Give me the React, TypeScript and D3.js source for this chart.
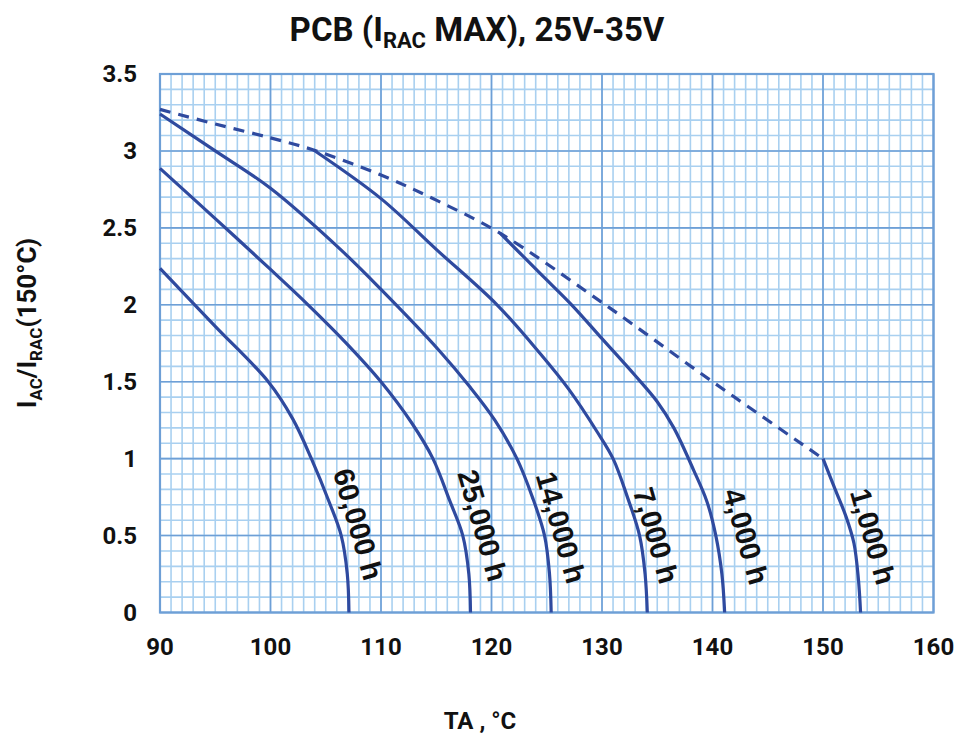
import React from "react";
import * as d3 from "d3";

// ---- data ----
const maxT = [90, 95, 100, 103.9, 110, 115, 120.8, 130, 140, 150];
const maxV = [3.27, 3.175, 3.085, 3.006, 2.843, 2.68, 2.464, 2.015, 1.5, 1.0];

const h60000: [number, number][] = [[90, 2.236], [95, 1.86], [99.8, 1.5], [102, 1.26], [103.7, 1.0], [105.3, 0.72], [106.4, 0.5], [106.95, 0.25], [107.1, 0]];
const h25000: [number, number][] = [[90, 2.887], [95, 2.56], [100, 2.23], [103.4, 2.0], [107, 1.74], [110, 1.5], [112.8, 1.23], [114.7, 1.0], [116.2, 0.73], [117.4, 0.5], [117.95, 0.25], [118.1, 0]];
const h14000: [number, number][] = [[90, 3.24], [95, 3.0], [100, 2.757], [106.4, 2.355], [110, 2.1], [115.3, 1.7], [118, 1.47], [120.3, 1.25], [122.3, 1.0], [123.7, 0.75], [124.8, 0.5], [125.25, 0.25], [125.4, 0]];
const h7000: [number, number][] = [[103.9, 3.006], [110, 2.69], [115, 2.36], [120.5, 2.0], [124.4, 1.683], [127, 1.45], [129.6, 1.17], [131, 1.0], [132.3, 0.75], [133.4, 0.5], [133.9, 0.25], [134.1, 0]];
const h4000: [number, number][] = [[120.8, 2.464], [124.4, 2.204], [127.25, 2.0], [130, 1.78], [133, 1.54], [135, 1.37], [136.5, 1.2], [138.3, 0.924], [139.5, 0.72], [140.3, 0.5], [140.85, 0.25], [141.1, 0]];
const h1000: [number, number][] = [[150, 1.0], [151.1, 0.8], [152.1, 0.62], [152.8, 0.45], [153.2, 0.22], [153.4, 0]];

const seriesNames = ["60,000 h", "25,000 h", "14,000 h", "7,000 h", "4,000 h", "1,000 h"];
const seriesData = [h60000, h25000, h14000, h7000, h4000, h1000];
// label anchor (centre) in data coordinates
const labelT = [107.92, 119.19, 126.29, 134.89, 143.03, 154.52];
const labelV = [0.573, 0.566, 0.553, 0.501, 0.494, 0.494];

const xTicks = [90, 100, 110, 120, 130, 140, 150, 160];
const yTicks = [0, 0.5, 1, 1.5, 2, 2.5, 3, 3.5];

const W = 955, H = 736;
const M = { left: 160, right: 933.5, top: 74, bottom: 612.5 };

const MINOR = "#a9d0f0";
const MAJOR = "#6e9fd6";
const LINE = "#2f4a9f";
const FONT = "Roboto, 'Liberation Sans', sans-serif";

export default function App() {
  const x = d3.scaleLinear().domain([90, 160]).range([M.left, M.right]);
  const y = d3.scaleLinear().domain([0, 3.5]).range([M.bottom, M.top]);

  const minorX = d3.range(90, 160.001, 1);
  const minorY = d3.range(0, 3.5001, 0.1);

  const line = d3
    .line<[number, number]>()
    .x((d) => x(d[0]))
    .y((d) => y(d[1]))
    .curve(d3.curveCatmullRom.alpha(0.5));

  const maxPts: [number, number][] = maxT.map((t, i) => [t, maxV[i]]);

  return (
    <svg width={W} height={H} style={{ position: "absolute", left: 0, top: 0, background: "#fff" }}>
      <rect width={W} height={H} fill="#fff" />
      {/* minor grid */}
      {minorX.map((t, i) => (
        <line key={"mx" + i} x1={x(t)} x2={x(t)} y1={M.top} y2={M.bottom} stroke={MINOR} strokeWidth={1.6} />
      ))}
      {minorY.map((v, i) => (
        <line key={"my" + i} x1={M.left} x2={M.right} y1={y(v)} y2={y(v)} stroke={MINOR} strokeWidth={1.6} />
      ))}
      {/* major grid */}
      {xTicks.map((t) => (
        <line key={"Mx" + t} x1={x(t)} x2={x(t)} y1={M.top} y2={M.bottom} stroke={MAJOR} strokeWidth={1.6} />
      ))}
      {yTicks.map((v) => (
        <line key={"My" + v} x1={M.left} x2={M.right} y1={y(v)} y2={y(v)} stroke={MAJOR} strokeWidth={1.6} />
      ))}
      <rect x={M.left} y={M.top} width={M.right - M.left} height={M.bottom - M.top} fill="none" stroke={MAJOR} strokeWidth={2.2} />

      {/* curves */}
      <path d={line(maxPts) || ""} fill="none" stroke={LINE} strokeWidth={3.2} strokeDasharray="11 8" />
      {seriesData.map((s, i) => (
        <path key={"s" + i} d={line(s) || ""} fill="none" stroke={LINE} strokeWidth={3.2} />
      ))}

      {/* curve labels */}
      {seriesNames.map((n, i) => (
        <text
          key={"l" + i}
          transform={`translate(${x(labelT[i])},${y(labelV[i])}) rotate(74)`}
          textAnchor="middle"
          dominantBaseline="central"
          fontFamily="'Liberation Sans', Arial, sans-serif"
          fontWeight="bold"
          fontSize={29}
          fill="#111"
        >
          {n}
        </text>
      ))}

      {/* tick labels */}
      {xTicks.map((t) => (
        <text key={"xt" + t} x={x(t)} y={655} textAnchor="middle" fontFamily={FONT} fontWeight="bold" fontSize={24} fill="#111">
          {t}
        </text>
      ))}
      {yTicks.map((v) => (
        <text key={"yt" + v} x={137} y={y(v)} textAnchor="end" dominantBaseline="central" fontFamily={FONT} fontWeight="bold" fontSize={24} fill="#111">
          {v}
        </text>
      ))}

      {/* title */}
      <text x={477} y={41} textAnchor="middle" fontFamily={FONT} fontWeight="bold" fontSize={33} fill="#111">
        PCB (I<tspan fontSize={22} dy={7}>RAC</tspan>
        <tspan dy={-7}> MAX), 25V-35V</tspan>
      </text>

      {/* x axis title */}
      <text x={480} y={729} textAnchor="middle" fontFamily={FONT} fontWeight="bold" fontSize={24} fill="#111">
        TA , °C
      </text>

      {/* y axis title */}
      <text transform="translate(36,323) rotate(-90)" textAnchor="middle" fontFamily={FONT} fontWeight="bold" fontSize={26} fill="#111">
        I<tspan fontSize={17} dy={6}>AC</tspan>
        <tspan dy={-6}>/I</tspan>
        <tspan fontSize={17} dy={6}>RAC</tspan>
        <tspan dy={-6}>(150°C)</tspan>
      </text>
    </svg>
  );
}
